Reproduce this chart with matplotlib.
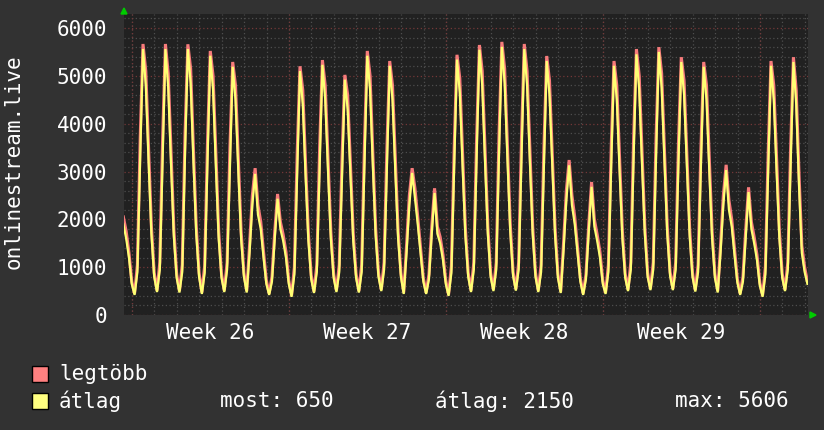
import numpy as np
import matplotlib
matplotlib.use("Agg")
import matplotlib.pyplot as plt
from matplotlib.patches import Rectangle, Polygon

# samples every 3 h; first sample is Sunday evening before Week 26 Monday (day 0)
T0 = -0.385; STEP = 0.125

AVG_PRE = [1900, 1600, 1200, 650]
AVG_DAYS = [
    [420, 900, 3300, 5560, 4800, 3200, 1700, 800],
    [480, 950, 3300, 5560, 4750, 3150, 1650, 780],
    [470, 900, 3400, 5560, 4850, 3200, 1700, 800],
    [440, 880, 3200, 5420, 4700, 3100, 1600, 780],
    [480, 950, 3100, 5190, 4500, 3000, 1600, 800],
    [470, 1300, 2300, 2950, 2100, 1800, 1200, 650],
    [420, 700, 1600, 2430, 1800, 1550, 1200, 650],
    [380, 850, 3000, 5100, 4400, 2900, 1550, 750],
    [460, 900, 3100, 5230, 4500, 3000, 1600, 780],
    [480, 900, 2900, 4920, 4300, 2900, 1550, 780],
    [470, 900, 3200, 5420, 4700, 3100, 1650, 800],
    [500, 950, 3100, 5210, 4500, 3000, 1600, 800],
    [440, 1300, 2300, 2970, 2450, 1900, 1300, 700],
    [440, 750, 1700, 2550, 1700, 1500, 1150, 650],
    [400, 880, 3100, 5340, 4650, 3100, 1650, 800],
    [480, 950, 3300, 5545, 4800, 3200, 1700, 800],
    [500, 950, 3400, 5606, 4850, 3250, 1750, 820],
    [510, 950, 3300, 5560, 4800, 3200, 1700, 800],
    [480, 900, 3100, 5310, 4600, 3100, 1650, 780],
    [460, 1350, 2400, 3130, 2300, 1900, 1300, 700],
    [420, 750, 1750, 2680, 1850, 1550, 1200, 650],
    [440, 900, 3100, 5210, 4500, 3000, 1600, 780],
    [500, 950, 3300, 5450, 4700, 3150, 1700, 800],
    [520, 950, 3300, 5500, 4750, 3200, 1700, 820],
    [520, 950, 3200, 5290, 4600, 3100, 1650, 800],
    [490, 900, 3100, 5190, 4500, 3000, 1600, 780],
    [470, 1300, 2300, 3030, 2200, 1850, 1250, 680],
    [420, 700, 1650, 2570, 1800, 1500, 1150, 620],
    [380, 850, 3000, 5210, 4500, 3000, 1600, 780],
    [500, 950, 3100, 5290, 4400, 2700, 1300, 900],
]
AVG_LAST = [650]

MAX_PRE = [2050, 1750, 1300, 700]
MAX_DAYS = [
    [450, 1050, 3700, 5666, 5100, 3450, 1850, 880],
    [510, 1100, 3700, 5666, 5050, 3400, 1800, 860],
    [500, 1050, 3800, 5660, 5150, 3450, 1850, 880],
    [470, 1030, 3600, 5520, 5000, 3350, 1750, 860],
    [510, 1100, 3500, 5290, 4800, 3250, 1750, 880],
    [500, 1450, 2500, 3070, 2300, 1950, 1320, 720],
    [450, 800, 1750, 2530, 1950, 1680, 1320, 720],
    [410, 1000, 3400, 5200, 4700, 3150, 1700, 830],
    [490, 1050, 3500, 5330, 4800, 3250, 1750, 860],
    [510, 1050, 3300, 5020, 4600, 3150, 1700, 860],
    [500, 1050, 3600, 5520, 5000, 3350, 1800, 880],
    [530, 1100, 3500, 5310, 4800, 3250, 1750, 880],
    [470, 1450, 2500, 3070, 2650, 2050, 1420, 770],
    [470, 850, 1850, 2650, 1850, 1630, 1260, 720],
    [430, 1030, 3500, 5440, 4950, 3350, 1800, 880],
    [510, 1100, 3700, 5645, 5100, 3450, 1850, 880],
    [530, 1100, 3800, 5710, 5150, 3500, 1900, 900],
    [540, 1100, 3700, 5666, 5100, 3450, 1850, 880],
    [510, 1050, 3500, 5415, 4900, 3350, 1800, 860],
    [490, 1500, 2600, 3240, 2500, 2050, 1420, 770],
    [450, 850, 1900, 2780, 2000, 1680, 1320, 720],
    [470, 1050, 3500, 5310, 4800, 3250, 1750, 860],
    [530, 1100, 3700, 5560, 5000, 3400, 1850, 880],
    [550, 1100, 3700, 5600, 5050, 3450, 1850, 900],
    [550, 1100, 3600, 5390, 4900, 3350, 1800, 880],
    [520, 1050, 3500, 5290, 4800, 3250, 1750, 860],
    [500, 1450, 2500, 3140, 2400, 2000, 1370, 750],
    [450, 800, 1800, 2670, 1950, 1630, 1260, 680],
    [410, 1000, 3400, 5310, 4800, 3250, 1750, 860],
    [530, 1100, 3500, 5390, 4700, 2950, 1450, 1000],
]
MAX_LAST = [700]

WEEK_LABELS = ["Week 26", "Week 27", "Week 28", "Week 29"]
WEEK_STARTS = [0, 7, 14, 21, 28]
LEGEND_STATS = {"most": 650, "átlag": 2150, "max": 5606}

avg = np.array(AVG_PRE + sum(AVG_DAYS, []) + AVG_LAST, dtype=float)
mx = np.array(MAX_PRE + sum(MAX_DAYS, []) + MAX_LAST, dtype=float)
t = T0 + STEP * np.arange(len(avg))

BG = "#323232"; PLOT_BG = "#212121"
RED = "#f77b7b"; YEL = "#ffff73"
MONO = "DejaVu Sans Mono"

W, H = 824, 430
fig = plt.figure(figsize=(W/100, H/100), dpi=100, facecolor=BG)
ax = fig.add_axes([124/W, 1-315/H, (808-124)/W, (315-14)/H], facecolor=PLOT_BG)

ax.set_xlim(-0.357, 30.14); ax.set_ylim(0, 6293)

# grid
ax.set_yticks(np.arange(0, 6001, 1000))
ax.set_yticks(np.arange(0, 6300, 200), minor=True)
ax.set_xticks(np.arange(0, 31, 1), minor=True)
ax.set_xticks([w + 3.5 for w in WEEK_STARTS[:4]])
ax.set_xticklabels(WEEK_LABELS)
ax.grid(True, which="minor", axis="both", color="#4e4e4e", linestyle=(0, (1, 2)), linewidth=0.9)
ax.grid(True, which="major", axis="y", color="#733838", linestyle=(0, (1, 2)), linewidth=0.9)
for ws in WEEK_STARTS:
    ax.axvline(ws, color="#733838", linestyle=(0, (1, 2)), linewidth=0.9, zorder=1)
ax.set_axisbelow(True)

ax.plot(t, mx, color=RED, lw=2.2, zorder=3, solid_joinstyle="miter")
ax.plot(t, avg, color=YEL, lw=1.6, zorder=4, solid_joinstyle="miter")

for s in ax.spines.values(): s.set_visible(False)
ax.tick_params(axis="both", which="both", length=0, colors="white")
ax.tick_params(axis="y", pad=12, labelsize=15)
ax.tick_params(axis="x", pad=6, labelsize=15)
for lbl in ax.get_xticklabels() + ax.get_yticklabels():
    lbl.set_family(MONO)

fig.text(14/W, 1-162/H, "onlinestream.live", rotation=90, ha="center", va="center",
         color="white", fontsize=15, family=MONO)

# arrows at axis ends
fig.patches.append(Polygon([[121/W, 1-14/H], [127/W, 1-14/H], [124/W, 1-8/H]],
                           closed=True, color="#00cc00", transform=fig.transFigure))
fig.patches.append(Polygon([[810/W, 1-312/H], [810/W, 1-318/H], [816/W, 1-315/H]],
                           closed=True, color="#00cc00", transform=fig.transFigure))

# legend
for yc, col, name in [(374, "#ff8080", "legtöbb"), (401, "#ffff80", "átlag")]:
    fig.patches.append(Rectangle((32/W, 1-(yc+8)/H), 16/W, 16/H, facecolor=col,
                                 edgecolor="black", lw=1, transform=fig.transFigure))
    fig.text(59/W, 1-yc/H, name, ha="left", va="center", color="white", fontsize=15, family=MONO)
fig.text(220/W, 1-401/H, f"most: {LEGEND_STATS['most']}", ha="left", va="center",
         color="white", fontsize=15, family=MONO)
fig.text(435/W, 1-401/H, f"átlag: {LEGEND_STATS['átlag']}", ha="left", va="center",
         color="white", fontsize=15, family=MONO)
fig.text(675/W, 1-401/H, f"max: {LEGEND_STATS['max']}", ha="left", va="center",
         color="white", fontsize=15, family=MONO)

fig.savefig("out.png", dpi=100, facecolor=BG)
